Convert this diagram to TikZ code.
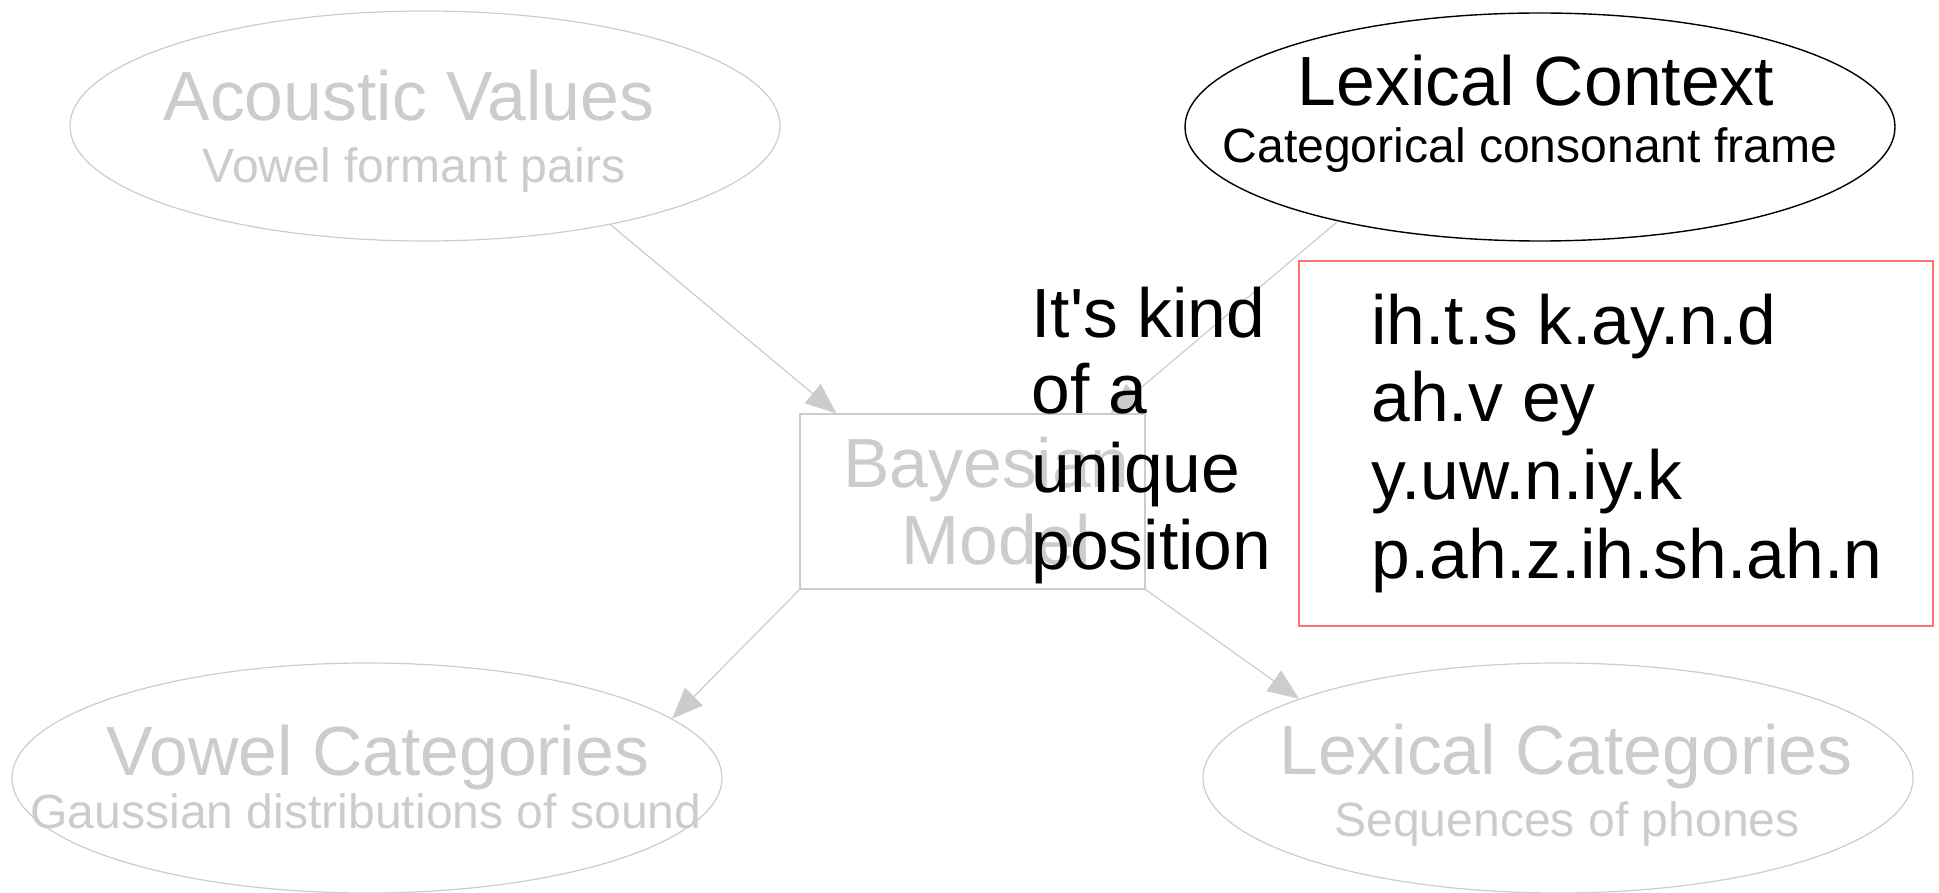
\documentclass[tikz,border=0pt]{standalone}
\usepackage{fontspec}
\setmainfont{Liberation Sans}
\usetikzlibrary{shapes.geometric,arrows.meta}
\definecolor{faded}{RGB}{204,204,204}
\definecolor{boxred}{RGB}{255,112,112}
\begin{document}
\begin{tikzpicture}[x=0.5pt,y=-0.5pt,
  oval/.style={ellipse,draw=faded,line width=0.6pt,minimum width=355pt,minimum height=115pt,inner sep=0pt},
  ovalon/.style={ellipse,draw=black,line width=0.7pt,minimum width=355pt,minimum height=114pt,inner sep=0pt},
  title/.style={anchor=base,inner sep=0pt,font=\fontsize{34.85pt}{38pt}\selectfont},
  subtitle/.style={anchor=base,inner sep=0pt,font=\fontsize{24.05pt}{26pt}\selectfont},
  bigline/.style={anchor=base west,inner sep=0pt,font=\fontsize{34.8pt}{38pt}\selectfont},
  link/.style={draw=faded,line width=0.6pt,-{Triangle[length=15.5pt,width=12.5pt,fill=faded]}}]
\useasboundingbox (0,0) rectangle (1939,893);

% outer nodes of the model
\node[oval]   (acoustic) at (425,126) {};
\node[ovalon] (context)  at (1540,127) {};
\node[oval]   (vowel)    at (367,778) {};
\node[oval]   (lexcat)   at (1558,778) {};

\node[title,text=faded]    (acT) at (409,121) {Acoustic Values};
\node[subtitle,text=faded] (acS) at (414,183) {Vowel formant pairs};
\node[title]               (cxT) at (1536,106) {Lexical Context};
\node[subtitle]            (cxS) at (1530,163) {Categorical consonant frame};
\node[title,text=faded]    (vcT) at (378,775) {Vowel Categories};
\node[subtitle,text=faded] (vcS) at (366,828) {Gaussian distributions of sound};
\node[title,text=faded]    (lcT) at (1566,774) {Lexical Categories};
\node[subtitle,text=faded] (lcS) at (1567,836) {Sequences of phones};

% central model box
\node[draw=faded,line width=0.6pt,minimum width=172.5pt,minimum height=87.5pt,inner sep=0pt]
  (bayes) at (972.5,501.5) {};
\node[bigline,text=faded] (bayes1) at (843,487) {Bayesian};
\node[bigline,text=faded] (bayes2) at (901,564) {Model};

% connectors
\draw[link] (acoustic.-28) -- ([xshift=18.5pt]bayes.north west);
\draw[link] (context.205.3) -- ([xshift=-17.5pt]bayes.north east);
\draw[link] (bayes.south west) -- (vowel.11);
\draw[link] (bayes.south east) -- (lexcat.163.5);

% annotation
\node[bigline] (note1) at (1031,337) {It\textquotesingle s kind};
\node[bigline] (note2) at (1031,414) {of a};
\node[bigline] (note3) at (1031,492) {unique};
\node[bigline] (note4) at (1031,569) {position};

% phone transcriptions
\node[draw=boxred,line width=1pt,minimum width=317pt,minimum height=182.5pt,inner sep=0pt]
  (phones) at (1615.5,443.5) {};
\node[bigline] (ph1) at (1371,344) {ih.t.s k.ay.n.d};
\node[bigline] (ph2) at (1371,422) {ah.v ey};
\node[bigline] (ph3) at (1371,499) {y.uw.n.iy.k};
\node[bigline] (ph4) at (1371,578) {p.ah.z.ih.sh.ah.n};
\end{tikzpicture}
\end{document}
